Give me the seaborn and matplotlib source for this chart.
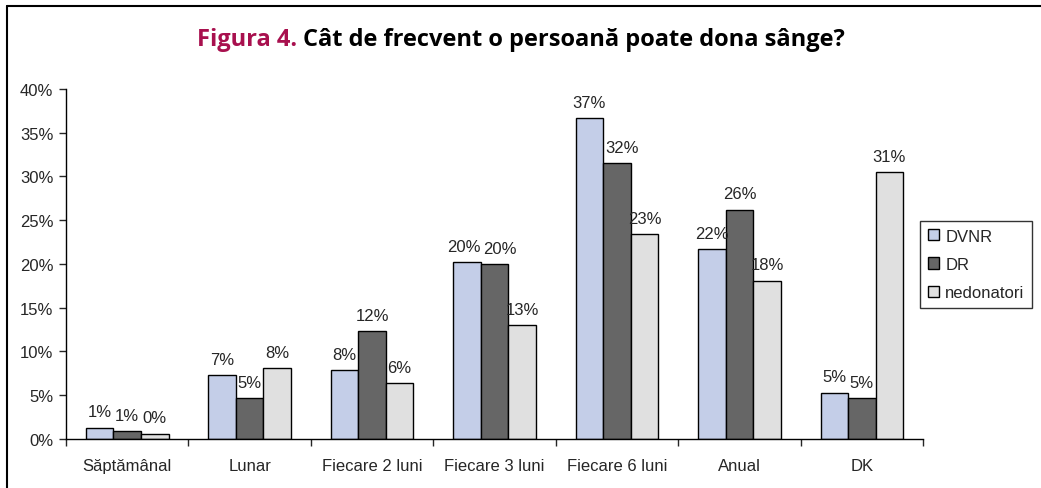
import pandas as pd
import numpy as np
import matplotlib
matplotlib.use("Agg")
import matplotlib.pyplot as plt
from matplotlib.lines import Line2D
from matplotlib.ticker import PercentFormatter
import seaborn as sns

# data (percent)
categories = ['Săptămânal', 'Lunar', 'Fiecare 2 luni', 'Fiecare 3 luni',
              'Fiecare 6 luni', 'Anual', 'DK']
groups = ['DVNR', 'DR', 'nedonatori']
dvnr = [1.3, 7.3, 7.9, 20.2, 36.7, 21.7, 5.3]
dr = [0.9, 4.7, 12.3, 20.0, 31.5, 26.2, 4.7]
nedonatori = [0.6, 8.1, 6.4, 13.0, 23.4, 18.1, 30.5]
labels_dvnr = ['1%', '7%', '8%', '20%', '37%', '22%', '5%']
labels_dr = ['1%', '5%', '12%', '20%', '32%', '26%', '5%']
labels_ned = ['0%', '8%', '6%', '13%', '23%', '18%', '31%']

colors = ['#C4CEE8', '#666666', '#E0E0E0']

df = pd.DataFrame({
    'cat': categories * 3,
    'grp': [g for g in groups for _ in categories],
    'val': dvnr + dr + nedonatori,
})

sns.set_style('white')
plt.rcParams['font.family'] = ['Liberation Sans', 'DejaVu Sans']

fig = plt.figure(figsize=(10.41, 4.89), dpi=100)
ax = fig.add_axes([0.0634, 0.1002, 0.8233, 0.7158])

sns.barplot(data=df, x='cat', y='val', hue='grp', order=categories,
            hue_order=groups, palette=colors, width=0.675,
            edgecolor='black', linewidth=1.0, saturation=1, ax=ax)

# value labels
anns = []
for cont, labs in zip(ax.containers, [labels_dvnr, labels_dr, labels_ned]):
    anns.append(ax.bar_label(cont, labels=labs, padding=6, fontsize=12))
# nudge the crowded labels sideways, like the original
anns[0][3].xyann = (-2, 6)
anns[1][3].xyann = (4, 6)
anns[1][4].xyann = (4, 6)

ax.set_ylim(0, 40)
ax.set_xlim(-0.5, len(categories) - 0.5)
ax.set_yticks(np.arange(0, 41, 5))
ax.yaxis.set_major_formatter(PercentFormatter(decimals=0))
ax.set_xlabel('')
ax.set_ylabel('')

# tick marks between categories
ax.set_xticks(np.arange(-0.5, len(categories)), minor=True)
ax.tick_params(axis='x', which='major', length=0, pad=14, labelsize=12)
ax.tick_params(axis='x', which='minor', length=5, width=1, direction='out',
               bottom=True)
ax.tick_params(axis='y', length=5, width=1, direction='out', left=True,
               labelsize=12, pad=4)

sns.despine(ax=ax)
for side in ['left', 'bottom']:
    ax.spines[side].set_color('black')
    ax.spines[side].set_linewidth(1)

# legend
handles, lbls = ax.get_legend_handles_labels()
ax.legend(handles, lbls, loc='upper left', bbox_to_anchor=(0.884, 0.546),
          bbox_transform=fig.transFigure, fontsize=12, frameon=True,
          fancybox=False, edgecolor='black', handlelength=0.65,
          handleheight=0.65, handletextpad=0.4, labelspacing=0.8,
          borderpad=0.45, borderaxespad=0, title=None)
ax.get_legend().get_frame().set_linewidth(1)

# title in two colours
t1 = fig.text(0.189, 0.918, 'Figura 4.', color='#A8104E', fontsize=17,
              fontweight='bold', family='Open Sans', va='center', ha='left')
fig.canvas.draw()
bb = t1.get_window_extent()
x_next = (bb.x1 + 6) / fig.bbox.width
fig.text(x_next, 0.918, 'Cât de frecvent o persoană poate dona sânge?',
         color='black', fontsize=17, fontweight='bold', family='Open Sans',
         va='center', ha='left')

# frame lines left and top
fig.add_artist(Line2D([7 / 1041, 7 / 1041], [0, 1 - 7 / 489],
                      transform=fig.transFigure, color='black', lw=1.5))
fig.add_artist(Line2D([7 / 1041, 1], [1 - 7 / 489, 1 - 7 / 489],
                      transform=fig.transFigure, color='black', lw=1.5))

fig.savefig('out.png', dpi=100)
